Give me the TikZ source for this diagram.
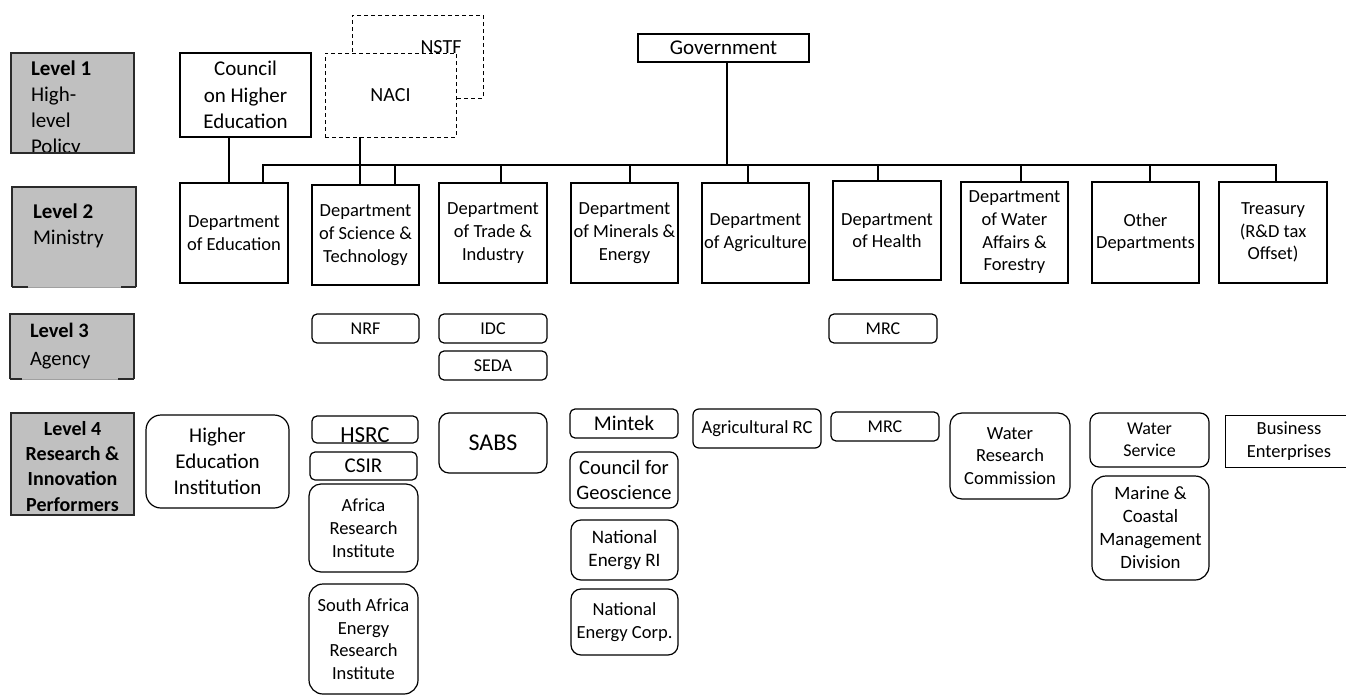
\documentclass[tikz,border=0pt]{standalone}
\usepackage{fontspec}
\setmainfont{Carlito}
\definecolor{lvgray}{HTML}{C0C0C0}
\definecolor{lvmid}{HTML}{A0A0A0}
\definecolor{lvedge}{HTML}{2A2A2A}
\tikzset{
  basebox/.style={draw=black, line width=1.2pt, inner sep=0pt, outer sep=0pt, align=center, anchor=north west, fill=white},
  sqbox/.style={basebox},
  rbox/.style={basebox, rounded corners=#1},
  rbox/.default=6pt,
  dbox/.style={basebox, dash pattern=on 4pt off 3pt, line width=1pt},
  lvbox/.style={fill=lvgray, draw=none, inner sep=0pt, outer sep=0pt, anchor=north west},
  lvborder/.style={draw=lvedge, line width=1.1pt},
  lvweak/.style={draw=lvmid, line width=1pt},
  lvtext/.style={inner sep=0pt, outer sep=0pt},
  wire/.style={draw=black, line width=1.2pt},
  fs/.style 2 args={font=\fontsize{#1}{#2}\selectfont},
}
\begin{document}
\begin{tikzpicture}[x=1pt,y=-1pt]
\useasboundingbox (0,0) rectangle (1346,696);

% ---------- level boxes ----------
\node[lvbox, minimum width=123pt, minimum height=100pt] (L1) at (11,53) {};
\draw[lvborder] (L1.south west) rectangle (L1.north east);
\begin{scope}
\clip (L1.south west) rectangle (L1.north east);
\node[lvtext, fs={21}{25.9}, align=left, anchor=base west] (L1t) at (31,153.4) {\textbf{Level 1}\\High-\\level\\Policy};
\end{scope}
\draw[lvborder] (L1.south west) -- (L1.south east);

\node[lvbox, minimum width=124pt, minimum height=100pt] (L2) at (12,187) {};
\draw[lvborder] (L2.south west) -- (L2.north west) -- (L2.north east) -- (L2.south east);
\draw[lvweak] (L2.south west) -- (L2.south east);
\draw[lvborder] (L2.south west) -- ++(16,0);
\draw[lvborder] (L2.south east) -- ++(-15,0);
\node[lvtext, fs={21}{25.6}, align=left, anchor=base west] (L2t) at (33,244) {\textbf{Level 2}\\Ministry};

\node[lvbox, minimum width=124pt, minimum height=65pt] (L3) at (10,314) {};
\draw[lvborder] (L3.south west) -- (L3.north west) -- (L3.north east) -- (L3.south east);
\draw[lvweak] (L3.south west) -- (L3.south east);
\draw[lvborder] (L3.south west) -- ++(12,0);
\draw[lvborder] (L3.south east) -- ++(-16,0);
\node[lvtext, fs={20.5}{28.5}, align=left, anchor=base west] (L3t) at (30,365.5) {\textbf{Level 3}\\Agency};

\node[lvbox, minimum width=123pt, minimum height=102pt] (L4) at (11,413) {};
\draw[lvborder] (L4.south west) rectangle (L4.north east);
\node[lvtext, fs={20}{25.3}, align=center, anchor=base] (L4t) at (72.5,511) {\textbf{Level 4}\\\textbf{Research \&}\\\textbf{Innovation}\\\textbf{Performers}};

% ---------- level 1 ----------
\node[sqbox, fs={21}{26.3}, minimum width=131pt, minimum height=84pt] (council) at (180,53) {Council\\on Higher\\Education};
\node[dbox, minimum width=131pt, minimum height=83pt] (nstf) at (352,15) {};
\node[lvtext, fs={20}{24}, anchor=base] (nstft) at (441,53.5) {NSTF};
\node[dbox, fs={20}{24}, minimum width=131pt, minimum height=84pt] (naci) at (325,53) {NACI};
\node[sqbox, fs={21}{25}, minimum width=171pt, minimum height=28pt] (gov) at (638,34) {Government};

% ---------- level 2 ----------
\begin{scope}[every node/.style={fs={18.5}{22.7}}]
\node[sqbox, minimum width=108pt, minimum height=100pt] (ed) at (180,183) {Department\\of Education};
\node[sqbox, minimum width=107pt, minimum height=100pt] (dst) at (312,185) {Department\\of Science \&\\Technology};
\node[sqbox, minimum width=108pt, minimum height=100pt] (trade) at (439,183) {Department\\of Trade \&\\Industry};
\node[sqbox, minimum width=107pt, minimum height=100pt] (mine) at (571,183) {Department\\of Minerals \&\\Energy};
\node[sqbox, minimum width=107pt, minimum height=100pt] (agri) at (702,183) {Department\\of Agriculture};
\node[sqbox, minimum width=108pt, minimum height=99pt] (health) at (833,181) {Department\\of Health};
\node[sqbox, minimum width=107pt, minimum height=101pt] (water) at (961,182) {Department\\of Water\\Affairs \&\\Forestry};
\node[sqbox, minimum width=107pt, minimum height=101pt] (other) at (1092,182) {Other\\Departments};
\node[sqbox, minimum width=108pt, minimum height=101pt] (treas) at (1219,182) {Treasury\\(R\&D tax\\Offset)};
\end{scope}

% ---------- connectors ----------
\coordinate (busL) at (263,165);
\coordinate (busR) at (1276,165);
\coordinate (cc) at (229,0);
\coordinate (nc) at (360,0);
\coordinate (gv) at (727,165);
\coordinate (dDst) at (395,165);
\coordinate (dTrade) at (501,165);
\coordinate (dMine) at (630,165);
\coordinate (dAgri) at (748,165);
\coordinate (dHealth) at (878,165);
\coordinate (dWater) at (1021,165);
\coordinate (dOther) at (1150,165);
\draw[wire] (cc |- council.south) -- (cc |- ed.north);
\draw[wire] (nc |- naci.south) -- (nc |- dst.north);
\draw[wire] (gv |- gov.south) -- (gv);
\draw[wire] (busL |- ed.north) -- (busL) -- (busR) -- (busR |- treas.north);
\draw[wire] (dDst) -- (dDst |- dst.north);
\draw[wire] (dTrade) -- (dTrade |- trade.north);
\draw[wire] (dMine) -- (dMine |- mine.north);
\draw[wire] (dAgri) -- (dAgri |- agri.north);
\draw[wire] (dHealth) -- (dHealth |- health.north);
\draw[wire] (dWater) -- (dWater |- water.north);
\draw[wire] (dOther) -- (dOther |- other.north);

% ---------- level 3 ----------
\begin{scope}[every node/.style={fs={18}{21}}]
\node[rbox=5pt, minimum width=107pt, minimum height=29pt] (nrf) at (312,314) {NRF};
\node[rbox=5pt, minimum width=108pt, minimum height=29pt] (idc) at (439,314) {IDC};
\node[rbox=5pt, minimum width=108pt, minimum height=29pt] (seda) at (439,351) {SEDA};
\node[rbox=5pt, minimum width=108pt, minimum height=29pt] (mrc3) at (829,314) {MRC};
\end{scope}

% ---------- level 4 ----------
\node[rbox=15pt, fs={21}{26}, minimum width=143pt, minimum height=93pt] (hei) at (146,415) {Higher\\Education\\Institution};
\node[rbox=5pt, minimum width=106pt, minimum height=27pt] (hsrc) at (312,416) {};
\node[lvtext, fs={23}{26}, anchor=base] (hsrct) at (365,442) {HSRC};
\node[rbox=5pt, fs={21}{24}, minimum width=107pt, minimum height=28pt] (csir) at (310,452) {CSIR};
\node[rbox=12pt, fs={18.5}{22.7}, minimum width=109pt, minimum height=88pt] (ari) at (309,484) {Africa\\Research\\Institute};
\node[rbox=14pt, fs={18.5}{22.6}, minimum width=109pt, minimum height=110pt] (saeri) at (309,584) {South Africa\\Energy\\Research\\Institute};
\node[rbox=10pt, fs={24}{28}, minimum width=108pt, minimum height=60pt] (sabs) at (439,413) {SABS};
\node[rbox=5pt, fs={21}{25}, minimum width=108pt, minimum height=29pt] (mintek) at (570,409) {Mintek};
\node[rbox=8pt, fs={20.5}{25}, minimum width=108pt, minimum height=56pt] (cgeo) at (570,452) {Council for\\Geoscience};
\node[rbox=10pt, fs={19}{23.3}, minimum width=107pt, minimum height=60pt] (neri) at (571,520) {National\\Energy RI};
\node[rbox=10pt, fs={18.5}{22.7}, minimum width=107pt, minimum height=66pt] (nec) at (571,589) {National\\Energy Corp.};
\node[rbox=6pt, fs={18.5}{22}, minimum width=128pt, minimum height=39pt] (agrc) at (693,409) {Agricultural RC};
\node[rbox=5pt, fs={18}{21}, minimum width=108pt, minimum height=29pt] (mrc4) at (831,412) {MRC};
\node[rbox=12pt, fs={18.5}{22.7}, minimum width=120pt, minimum height=86pt] (wrc) at (950,413) {Water\\Research\\Commission};
\node[rbox=9pt, fs={18}{21.7}, minimum width=119pt, minimum height=54pt] (wsv) at (1090,413) {Water\\Service};
\node[rbox=14pt, fs={18.8}{23}, minimum width=117pt, minimum height=104pt] (marine) at (1092,476) {Marine \&\\Coastal\\Management\\Division};
\node[sqbox, line width=0.9pt, fs={18.5}{23.3}, minimum width=128pt, minimum height=52pt] (busent) at (1225,415) {Business\\Enterprises};

\end{tikzpicture}
\end{document}
